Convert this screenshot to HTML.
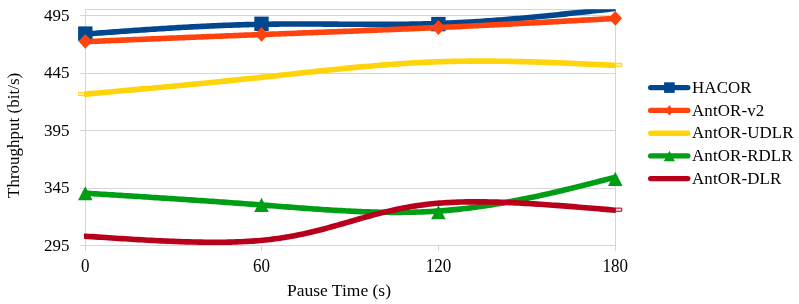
<!DOCTYPE html>
<html><head><meta charset="utf-8"><style>html,body{margin:0;padding:0;background:#fff;}svg{display:block;}</style></head>
<body><svg width="799" height="304" viewBox="0 0 799 304">
<defs><clipPath id="pc"><rect x="84" y="9.2" width="531.7" height="300"/></clipPath><clipPath id="pm"><rect x="0" y="9.2" width="799" height="300"/></clipPath></defs>
<rect width="799" height="304" fill="#fff"/>
<g stroke="#d6d6d6" stroke-width="1" fill="none" shape-rendering="crispEdges">
<line x1="85.3" y1="9.4" x2="615.3" y2="9.4"/>
<line x1="80" y1="15.3" x2="615.3" y2="15.3"/>
<line x1="80" y1="73.0" x2="615.3" y2="73.0"/>
<line x1="80" y1="130.5" x2="615.3" y2="130.5"/>
<line x1="80" y1="188.2" x2="615.3" y2="188.2"/>
<line x1="80" y1="245.6" x2="615.3" y2="245.6"/>
<line x1="85.3" y1="9.4" x2="85.3" y2="251"/>
<line x1="615.3" y1="9.4" x2="615.3" y2="251"/>
<line x1="261.4" y1="245.6" x2="261.4" y2="251"/>
<line x1="438.5" y1="245.6" x2="438.5" y2="251"/>
</g>
<g font-family="Liberation Serif, serif" font-size="17" fill="#000" style="filter:grayscale(1)">
<text x="69.5" y="20.5" text-anchor="end">495</text>
<text x="69.5" y="78.2" text-anchor="end">445</text>
<text x="69.5" y="135.7" text-anchor="end">395</text>
<text x="69.5" y="193.4" text-anchor="end">345</text>
<text x="69.5" y="250.8" text-anchor="end">295</text>
<text transform="translate(85.3,271.6) scale(1,1.06)" text-anchor="middle">0</text>
<text transform="translate(261.4,271.6) scale(1,1.06)" text-anchor="middle">60</text>
<text transform="translate(438.5,271.6) scale(1,1.06)" text-anchor="middle">120</text>
<text transform="translate(615.3,271.6) scale(1,1.06)" text-anchor="middle">180</text>
<text x="339" y="295.8" text-anchor="middle" font-size="17.5">Pause Time (s)</text>
<text transform="translate(18.5,135.4) rotate(-90)" text-anchor="middle">Throughput (bit/s)</text>
</g>
<g fill="none" stroke-width="5.6" stroke-linejoin="round" stroke-linecap="round">
<path d="M85.30,34.07 L87.95,33.87 L90.60,33.67 L93.26,33.48 L95.91,33.28 L98.56,33.08 L101.21,32.88 L103.87,32.69 L106.52,32.49 L109.17,32.30 L111.82,32.10 L114.48,31.91 L117.13,31.71 L119.78,31.52 L122.44,31.33 L125.09,31.14 L127.75,30.95 L130.40,30.76 L133.06,30.57 L135.71,30.39 L138.37,30.20 L141.03,30.02 L143.68,29.84 L146.34,29.66 L149.00,29.48 L151.66,29.30 L154.31,29.12 L156.97,28.95 L159.63,28.78 L162.29,28.61 L164.96,28.44 L167.62,28.27 L170.28,28.11 L172.94,27.95 L175.61,27.79 L178.27,27.63 L180.94,27.48 L183.60,27.32 L186.27,27.18 L188.94,27.03 L191.60,26.88 L194.27,26.74 L196.94,26.60 L199.61,26.47 L202.29,26.34 L204.96,26.21 L207.63,26.08 L210.31,25.96 L212.98,25.84 L215.66,25.72 L218.34,25.60 L221.02,25.49 L223.70,25.39 L226.38,25.28 L229.06,25.19 L231.74,25.09 L234.43,25.00 L237.11,24.91 L239.80,24.83 L242.49,24.75 L245.18,24.67 L247.87,24.60 L250.56,24.53 L253.25,24.47 L255.94,24.41 L258.64,24.35 L261.34,24.30 L264.04,24.26 L266.74,24.22 L269.44,24.18 L272.14,24.15 L274.84,24.12 L277.55,24.09 L280.25,24.07 L282.96,24.05 L285.67,24.04 L288.37,24.03 L291.08,24.02 L293.79,24.01 L296.50,24.01 L299.21,24.01 L301.93,24.01 L304.64,24.01 L307.35,24.02 L310.07,24.03 L312.78,24.03 L315.49,24.05 L318.21,24.06 L320.92,24.07 L323.64,24.09 L326.35,24.10 L329.07,24.12 L331.78,24.13 L334.50,24.15 L337.21,24.17 L339.93,24.19 L342.64,24.20 L345.36,24.22 L348.07,24.24 L350.78,24.25 L353.50,24.27 L356.21,24.28 L358.92,24.30 L361.63,24.31 L364.34,24.32 L367.05,24.33 L369.76,24.34 L372.47,24.35 L375.18,24.35 L377.89,24.35 L380.59,24.35 L383.30,24.35 L386.00,24.35 L388.70,24.34 L391.41,24.33 L394.11,24.31 L396.80,24.30 L399.50,24.28 L402.20,24.25 L404.89,24.22 L407.59,24.19 L410.28,24.16 L412.97,24.12 L415.65,24.07 L418.34,24.02 L421.03,23.97 L423.71,23.91 L426.39,23.85 L429.07,23.78 L431.74,23.71 L434.42,23.63 L437.09,23.54 L439.76,23.45 L442.43,23.36 L445.10,23.25 L447.76,23.15 L450.42,23.03 L453.08,22.92 L455.74,22.79 L458.39,22.66 L461.05,22.53 L463.70,22.39 L466.35,22.24 L469.00,22.09 L471.64,21.94 L474.29,21.78 L476.93,21.62 L479.57,21.45 L482.21,21.27 L484.85,21.10 L487.48,20.91 L490.12,20.73 L492.75,20.54 L495.38,20.34 L498.01,20.14 L500.64,19.94 L503.26,19.74 L505.89,19.53 L508.51,19.31 L511.13,19.10 L513.76,18.88 L516.38,18.65 L518.99,18.42 L521.61,18.19 L524.23,17.96 L526.84,17.72 L529.46,17.48 L532.07,17.24 L534.68,17.00 L537.29,16.75 L539.90,16.50 L542.51,16.24 L545.12,15.99 L547.72,15.73 L550.33,15.47 L552.94,15.21 L555.54,14.94 L558.14,14.68 L560.75,14.41 L563.35,14.14 L565.95,13.87 L568.55,13.59 L571.15,13.32 L573.75,13.04 L576.35,12.77 L578.95,12.49 L581.55,12.21 L584.15,11.92 L586.74,11.64 L589.34,11.36 L591.94,11.07 L594.53,10.79 L597.13,10.50 L599.73,10.22 L602.32,9.93 L604.92,9.64 L607.51,9.35 L610.11,9.07 L612.70,8.78 L615.30,8.49" stroke="#00478e" clip-path="url(#pc)"/>
<rect x="78.10" y="26.40" width="14.4" height="14.4" fill="#00478e" stroke="none"/>
<rect x="254.30" y="16.60" width="14.4" height="14.4" fill="#00478e" stroke="none"/>
<rect x="431.20" y="16.90" width="14.4" height="14.4" fill="#00478e" stroke="none"/>
<path d="M85.30,41.65 L87.97,41.54 L90.63,41.43 L93.30,41.32 L95.96,41.21 L98.63,41.10 L101.30,40.99 L103.96,40.88 L106.63,40.77 L109.29,40.66 L111.96,40.55 L114.63,40.44 L117.29,40.33 L119.96,40.22 L122.63,40.11 L125.29,40.00 L127.96,39.89 L130.62,39.78 L133.29,39.67 L135.96,39.56 L138.62,39.45 L141.29,39.34 L143.96,39.23 L146.62,39.13 L149.29,39.02 L151.96,38.91 L154.62,38.80 L157.29,38.69 L159.96,38.58 L162.62,38.47 L165.29,38.36 L167.96,38.26 L170.62,38.15 L173.29,38.04 L175.96,37.93 L178.62,37.82 L181.29,37.71 L183.96,37.61 L186.62,37.50 L189.29,37.39 L191.96,37.28 L194.62,37.18 L197.29,37.07 L199.96,36.96 L202.63,36.86 L205.29,36.75 L207.96,36.64 L210.63,36.54 L213.30,36.43 L215.96,36.32 L218.63,36.22 L221.30,36.11 L223.97,36.01 L226.64,35.90 L229.30,35.79 L231.97,35.69 L234.64,35.58 L237.31,35.48 L239.98,35.38 L242.64,35.27 L245.31,35.17 L247.98,35.06 L250.65,34.96 L253.32,34.86 L255.99,34.75 L258.66,34.65 L261.33,34.55 L263.99,34.44 L266.66,34.34 L269.33,34.24 L272.00,34.14 L274.67,34.04 L277.34,33.93 L280.01,33.83 L282.68,33.73 L285.35,33.63 L288.02,33.53 L290.69,33.43 L293.36,33.33 L296.03,33.22 L298.70,33.12 L301.37,33.02 L304.04,32.92 L306.71,32.82 L309.38,32.72 L312.05,32.62 L314.72,32.52 L317.39,32.41 L320.05,32.31 L322.72,32.21 L325.39,32.11 L328.06,32.01 L330.73,31.91 L333.40,31.81 L336.07,31.70 L338.74,31.60 L341.41,31.50 L344.08,31.40 L346.75,31.29 L349.42,31.19 L352.08,31.09 L354.75,30.98 L357.42,30.88 L360.09,30.77 L362.76,30.67 L365.43,30.56 L368.09,30.46 L370.76,30.35 L373.43,30.25 L376.10,30.14 L378.76,30.03 L381.43,29.93 L384.10,29.82 L386.77,29.71 L389.43,29.60 L392.10,29.49 L394.76,29.38 L397.43,29.27 L400.10,29.16 L402.76,29.05 L405.43,28.94 L408.09,28.83 L410.76,28.72 L413.42,28.60 L416.09,28.49 L418.75,28.38 L421.41,28.26 L424.08,28.14 L426.74,28.03 L429.40,27.91 L432.07,27.79 L434.73,27.67 L437.39,27.56 L440.05,27.44 L442.72,27.31 L445.38,27.19 L448.04,27.07 L450.70,26.95 L453.36,26.83 L456.02,26.70 L458.68,26.58 L461.34,26.45 L464.00,26.32 L466.66,26.20 L469.32,26.07 L471.98,25.94 L474.63,25.81 L477.29,25.69 L479.95,25.56 L482.61,25.43 L485.27,25.29 L487.92,25.16 L490.58,25.03 L493.24,24.90 L495.89,24.77 L498.55,24.63 L501.21,24.50 L503.86,24.36 L506.52,24.23 L509.17,24.09 L511.83,23.96 L514.48,23.82 L517.14,23.69 L519.79,23.55 L522.45,23.41 L525.10,23.27 L527.76,23.14 L530.41,23.00 L533.07,22.86 L535.72,22.72 L538.37,22.58 L541.03,22.44 L543.68,22.30 L546.34,22.16 L548.99,22.02 L551.64,21.88 L554.30,21.74 L556.95,21.60 L559.60,21.45 L562.25,21.31 L564.91,21.17 L567.56,21.03 L570.21,20.88 L572.87,20.74 L575.52,20.60 L578.17,20.46 L580.82,20.31 L583.48,20.17 L586.13,20.02 L588.78,19.88 L591.43,19.74 L594.08,19.59 L596.74,19.45 L599.39,19.31 L602.04,19.16 L604.69,19.02 L607.34,18.87 L610.00,18.73 L612.65,18.58 L615.30,18.44" stroke="#ff420e" clip-path="url(#pc)"/>
<path d="M85.30,33.90 L92.10,41.30 L85.30,48.70 L78.50,41.30Z" fill="#ff420e" stroke="none"/>
<path d="M261.50,27.00 L268.30,34.40 L261.50,41.80 L254.70,34.40Z" fill="#ff420e" stroke="none"/>
<path d="M438.40,20.10 L445.20,27.50 L438.40,34.90 L431.60,27.50Z" fill="#ff420e" stroke="none"/>
<path d="M615.30,10.90 L622.10,18.30 L615.30,25.70 L608.50,18.30Z" fill="#ff420e" stroke="none"/>
<rect x="78.5" y="92.4" width="6.8" height="3.2" fill="#fff2a0" stroke="#ffd40a" stroke-width="1"/>
<rect x="615.7" y="63.3" width="6" height="3.4" fill="#fff2a0" stroke="#ffd40a" stroke-width="1"/>
<path d="M85.30,94.11 L87.93,93.87 L90.56,93.64 L93.18,93.40 L95.81,93.17 L98.44,92.93 L101.07,92.70 L103.69,92.46 L106.32,92.23 L108.95,91.99 L111.58,91.75 L114.20,91.52 L116.83,91.28 L119.46,91.04 L122.08,90.81 L124.71,90.57 L127.34,90.33 L129.97,90.09 L132.59,89.85 L135.22,89.62 L137.85,89.38 L140.47,89.14 L143.10,88.90 L145.73,88.66 L148.36,88.42 L150.98,88.18 L153.61,87.93 L156.24,87.69 L158.86,87.45 L161.49,87.21 L164.12,86.96 L166.74,86.72 L169.37,86.47 L171.99,86.23 L174.62,85.98 L177.25,85.73 L179.87,85.49 L182.50,85.24 L185.12,84.99 L187.75,84.74 L190.38,84.49 L193.00,84.24 L195.63,83.98 L198.25,83.73 L200.88,83.48 L203.50,83.22 L206.13,82.97 L208.75,82.71 L211.38,82.45 L214.00,82.19 L216.63,81.93 L219.25,81.67 L221.88,81.41 L224.50,81.15 L227.12,80.89 L229.75,80.62 L232.37,80.36 L235.00,80.09 L237.62,79.82 L240.24,79.55 L242.87,79.28 L245.49,79.01 L248.11,78.74 L250.73,78.47 L253.36,78.19 L255.98,77.92 L258.60,77.64 L261.22,77.36 L263.85,77.08 L266.47,76.80 L269.09,76.52 L271.71,76.23 L274.33,75.95 L276.95,75.66 L279.58,75.38 L282.20,75.09 L284.82,74.81 L287.44,74.52 L290.06,74.23 L292.69,73.95 L295.31,73.66 L297.93,73.37 L300.55,73.09 L303.18,72.80 L305.80,72.52 L308.43,72.23 L311.05,71.95 L313.68,71.67 L316.30,71.39 L318.93,71.11 L321.55,70.83 L324.18,70.55 L326.81,70.28 L329.44,70.01 L332.06,69.73 L334.69,69.46 L337.32,69.20 L339.96,68.93 L342.59,68.67 L345.22,68.41 L347.85,68.15 L350.49,67.89 L353.12,67.64 L355.76,67.39 L358.40,67.15 L361.04,66.90 L363.68,66.66 L366.32,66.43 L368.96,66.19 L371.60,65.96 L374.24,65.74 L376.89,65.52 L379.54,65.30 L382.18,65.09 L384.83,64.88 L387.48,64.67 L390.13,64.47 L392.79,64.28 L395.44,64.09 L398.10,63.90 L400.75,63.72 L403.41,63.55 L406.07,63.38 L408.74,63.21 L411.40,63.05 L414.06,62.90 L416.73,62.75 L419.40,62.61 L422.07,62.47 L424.74,62.34 L427.42,62.22 L430.09,62.10 L432.77,61.99 L435.45,61.89 L438.13,61.79 L440.82,61.70 L443.50,61.62 L446.19,61.54 L448.88,61.47 L451.57,61.40 L454.26,61.35 L456.96,61.29 L459.66,61.25 L462.35,61.21 L465.05,61.18 L467.76,61.15 L470.46,61.13 L473.16,61.11 L475.87,61.10 L478.58,61.10 L481.29,61.10 L484.00,61.10 L486.71,61.11 L489.43,61.13 L492.14,61.15 L494.86,61.17 L497.58,61.20 L500.30,61.23 L503.02,61.27 L505.74,61.32 L508.46,61.36 L511.19,61.41 L513.91,61.47 L516.64,61.53 L519.37,61.59 L522.10,61.66 L524.83,61.73 L527.56,61.80 L530.29,61.88 L533.02,61.96 L535.76,62.05 L538.49,62.13 L541.23,62.22 L543.96,62.31 L546.70,62.41 L549.44,62.51 L552.18,62.61 L554.92,62.71 L557.66,62.82 L560.40,62.92 L563.14,63.03 L565.88,63.15 L568.62,63.26 L571.37,63.37 L574.11,63.49 L576.85,63.61 L579.60,63.73 L582.34,63.85 L585.09,63.98 L587.83,64.10 L590.58,64.22 L593.33,64.35 L596.07,64.48 L598.82,64.60 L601.57,64.73 L604.31,64.86 L607.06,64.99 L609.81,65.12 L612.55,65.25 L615.30,65.38" stroke="#ffd40a" clip-path="url(#pc)"/>
<path d="M85.30,193.18 L88.00,193.35 L90.69,193.51 L93.39,193.68 L96.08,193.85 L98.78,194.02 L101.48,194.19 L104.17,194.35 L106.87,194.52 L109.57,194.69 L112.26,194.86 L114.96,195.03 L117.66,195.20 L120.35,195.36 L123.05,195.53 L125.75,195.70 L128.45,195.87 L131.15,196.04 L133.85,196.21 L136.55,196.38 L139.25,196.56 L141.95,196.73 L144.65,196.90 L147.35,197.07 L150.05,197.25 L152.75,197.42 L155.46,197.59 L158.16,197.77 L160.87,197.94 L163.57,198.12 L166.28,198.29 L168.98,198.47 L171.69,198.65 L174.40,198.83 L177.11,199.00 L179.82,199.18 L182.53,199.36 L185.24,199.54 L187.95,199.73 L190.66,199.91 L193.37,200.09 L196.09,200.27 L198.80,200.46 L201.52,200.64 L204.24,200.83 L206.96,201.02 L209.67,201.21 L212.39,201.39 L215.12,201.58 L217.84,201.78 L220.56,201.97 L223.29,202.16 L226.01,202.35 L228.74,202.55 L231.47,202.74 L234.20,202.94 L236.93,203.14 L239.66,203.34 L242.39,203.54 L245.13,203.74 L247.86,203.94 L250.60,204.15 L253.34,204.35 L256.08,204.56 L258.82,204.77 L261.56,204.97 L264.31,205.18 L267.05,205.40 L269.80,205.61 L272.55,205.82 L275.30,206.03 L278.05,206.25 L280.80,206.46 L283.55,206.67 L286.30,206.88 L289.06,207.10 L291.81,207.31 L294.57,207.52 L297.32,207.72 L300.08,207.93 L302.83,208.13 L305.59,208.34 L308.35,208.54 L311.10,208.73 L313.86,208.93 L316.61,209.12 L319.37,209.31 L322.12,209.49 L324.88,209.67 L327.63,209.85 L330.38,210.03 L333.14,210.19 L335.89,210.36 L338.64,210.52 L341.39,210.67 L344.14,210.82 L346.88,210.97 L349.63,211.10 L352.37,211.24 L355.12,211.36 L357.86,211.48 L360.60,211.59 L363.34,211.70 L366.08,211.80 L368.81,211.89 L371.54,211.98 L374.27,212.05 L377.00,212.12 L379.73,212.18 L382.45,212.23 L385.17,212.28 L387.89,212.31 L390.61,212.34 L393.32,212.35 L396.04,212.36 L398.74,212.36 L401.45,212.34 L404.15,212.32 L406.85,212.28 L409.55,212.24 L412.24,212.18 L414.93,212.12 L417.61,212.04 L420.30,211.95 L422.98,211.85 L425.65,211.74 L428.32,211.61 L430.99,211.47 L433.65,211.32 L436.31,211.16 L438.97,210.98 L441.62,210.79 L444.26,210.59 L446.91,210.37 L449.54,210.14 L452.18,209.90 L454.81,209.65 L457.44,209.38 L460.06,209.10 L462.68,208.82 L465.29,208.51 L467.91,208.20 L470.51,207.88 L473.12,207.54 L475.72,207.20 L478.32,206.84 L480.91,206.48 L483.50,206.10 L486.09,205.71 L488.68,205.32 L491.26,204.91 L493.84,204.50 L496.41,204.07 L498.99,203.64 L501.56,203.20 L504.13,202.74 L506.69,202.29 L509.25,201.82 L511.81,201.34 L514.37,200.86 L516.92,200.37 L519.48,199.87 L522.03,199.36 L524.57,198.85 L527.12,198.33 L529.66,197.80 L532.20,197.27 L534.74,196.73 L537.28,196.18 L539.82,195.63 L542.35,195.07 L544.88,194.51 L547.41,193.94 L549.94,193.36 L552.47,192.78 L554.99,192.20 L557.52,191.61 L560.04,191.02 L562.56,190.42 L565.08,189.82 L567.60,189.21 L570.12,188.60 L572.63,187.99 L575.15,187.38 L577.66,186.76 L580.18,186.14 L582.69,185.51 L585.20,184.89 L587.71,184.26 L590.22,183.63 L592.73,182.99 L595.24,182.36 L597.75,181.72 L600.26,181.08 L602.76,180.44 L605.27,179.81 L607.78,179.16 L610.29,178.52 L612.79,177.88 L615.30,177.24" stroke="#009e14" clip-path="url(#pc)"/>
<path d="M85.30,186.15 L92.60,200.35 L78.00,200.35Z" fill="#009e14" stroke="none"/>
<path d="M261.50,197.85 L268.80,212.05 L254.20,212.05Z" fill="#009e14" stroke="none"/>
<path d="M438.40,205.15 L445.70,219.35 L431.10,219.35Z" fill="#009e14" stroke="none"/>
<path d="M615.30,171.85 L622.60,186.05 L608.00,186.05Z" fill="#009e14" stroke="none"/>
<rect x="615.7" y="208.1" width="6" height="3.2" fill="#ffd8dc" stroke="#b8001c" stroke-width="1"/>
<path d="M85.30,236.20 L88.63,236.43 L91.97,236.65 L95.30,236.88 L98.63,237.10 L101.96,237.32 L105.29,237.55 L108.61,237.77 L111.93,237.99 L115.25,238.20 L118.56,238.42 L121.87,238.63 L125.17,238.83 L128.47,239.04 L131.76,239.24 L135.04,239.44 L138.32,239.63 L141.59,239.82 L144.85,240.00 L148.10,240.18 L151.34,240.35 L154.57,240.52 L157.79,240.68 L161.00,240.84 L164.20,240.99 L167.39,241.13 L170.57,241.26 L173.73,241.39 L176.88,241.51 L180.01,241.62 L183.14,241.73 L186.24,241.83 L189.34,241.91 L192.41,241.99 L195.47,242.06 L198.52,242.12 L201.54,242.17 L204.55,242.21 L207.54,242.24 L210.52,242.26 L213.47,242.27 L216.40,242.27 L219.32,242.25 L222.21,242.23 L225.08,242.19 L227.93,242.14 L230.76,242.08 L233.57,242.00 L236.35,241.91 L239.11,241.81 L241.85,241.70 L244.56,241.57 L247.25,241.42 L249.91,241.26 L252.55,241.09 L255.16,240.90 L257.74,240.70 L260.29,240.48 L262.82,240.24 L265.32,239.99 L267.79,239.73 L270.24,239.45 L272.66,239.15 L275.05,238.84 L277.42,238.52 L279.77,238.18 L282.10,237.83 L284.40,237.46 L286.68,237.09 L288.94,236.70 L291.18,236.30 L293.39,235.89 L295.59,235.47 L297.78,235.04 L299.94,234.60 L302.09,234.15 L304.22,233.69 L306.33,233.22 L308.43,232.74 L310.52,232.26 L312.59,231.77 L314.65,231.27 L316.69,230.76 L318.73,230.25 L320.75,229.73 L322.76,229.21 L324.76,228.68 L326.76,228.14 L328.74,227.61 L330.72,227.06 L332.69,226.52 L334.66,225.97 L336.62,225.42 L338.57,224.86 L340.52,224.31 L342.46,223.75 L344.41,223.19 L346.35,222.63 L348.28,222.07 L350.22,221.51 L352.16,220.95 L354.10,220.39 L356.03,219.83 L357.97,219.27 L359.92,218.72 L361.86,218.16 L363.81,217.61 L365.76,217.07 L367.72,216.52 L369.68,215.98 L371.65,215.45 L373.63,214.92 L375.61,214.39 L377.60,213.87 L379.61,213.36 L381.62,212.85 L383.64,212.35 L385.67,211.85 L387.71,211.37 L389.77,210.89 L391.84,210.42 L393.92,209.95 L396.02,209.50 L398.13,209.06 L400.25,208.62 L402.40,208.20 L404.56,207.79 L406.74,207.38 L408.93,206.99 L411.15,206.61 L413.38,206.25 L415.64,205.89 L417.91,205.55 L420.21,205.22 L422.53,204.91 L424.87,204.61 L427.24,204.32 L429.63,204.05 L432.05,203.80 L434.49,203.56 L436.95,203.33 L439.45,203.13 L441.97,202.93 L444.52,202.76 L447.09,202.60 L449.69,202.46 L452.32,202.33 L454.97,202.22 L457.64,202.12 L460.34,202.04 L463.06,201.97 L465.80,201.92 L468.57,201.88 L471.36,201.85 L474.17,201.84 L477.00,201.84 L479.85,201.85 L482.72,201.87 L485.61,201.91 L488.53,201.96 L491.45,202.02 L494.40,202.09 L497.37,202.17 L500.35,202.26 L503.35,202.37 L506.37,202.48 L509.40,202.60 L512.44,202.73 L515.51,202.87 L518.58,203.02 L521.67,203.18 L524.78,203.35 L527.89,203.52 L531.02,203.70 L534.17,203.89 L537.32,204.09 L540.49,204.29 L543.66,204.50 L546.85,204.72 L550.04,204.94 L553.25,205.17 L556.46,205.41 L559.68,205.65 L562.91,205.89 L566.15,206.14 L569.40,206.39 L572.65,206.65 L575.91,206.91 L579.17,207.17 L582.44,207.44 L585.71,207.71 L588.99,207.98 L592.27,208.26 L595.55,208.53 L598.84,208.81 L602.13,209.09 L605.42,209.37 L608.71,209.65 L612.01,209.94 L615.30,210.22" stroke="#b8001c" clip-path="url(#pc)"/>
</g>
<g stroke-width="5.4" stroke-linecap="round" fill="none">
<line x1="650.7" y1="87.6" x2="687.8" y2="87.6" stroke="#00478e"/>
<rect x="664.10" y="82.30" width="10.6" height="10.6" fill="#00478e" stroke="none"/>
<line x1="650.7" y1="110.4" x2="687.8" y2="110.4" stroke="#ff420e"/>
<path d="M669.40,105.10 L673.20,110.40 L669.40,115.70 L665.60,110.40Z" fill="#ff420e" stroke="none"/>
<line x1="650.7" y1="133.2" x2="687.8" y2="133.2" stroke="#ffd40a"/>
<line x1="650.7" y1="155.9" x2="687.8" y2="155.9" stroke="#009e14"/>
<path d="M669.40,150.80 L675.00,161.20 L663.80,161.20Z" fill="#009e14" stroke="none"/>
<line x1="650.7" y1="178.6" x2="687.8" y2="178.6" stroke="#b8001c"/>
</g>
<g font-family="Liberation Serif, serif" font-size="16.9" letter-spacing="0.12" fill="#000" style="filter:grayscale(1)">
<text x="692.0" y="92.8">HACOR</text>
<text x="692.0" y="115.6">AntOR-v2</text>
<text x="692.0" y="138.4">AntOR-UDLR</text>
<text x="692.0" y="161.1">AntOR-RDLR</text>
<text x="692.0" y="183.8">AntOR-DLR</text>
</g>
</svg></body></html>
